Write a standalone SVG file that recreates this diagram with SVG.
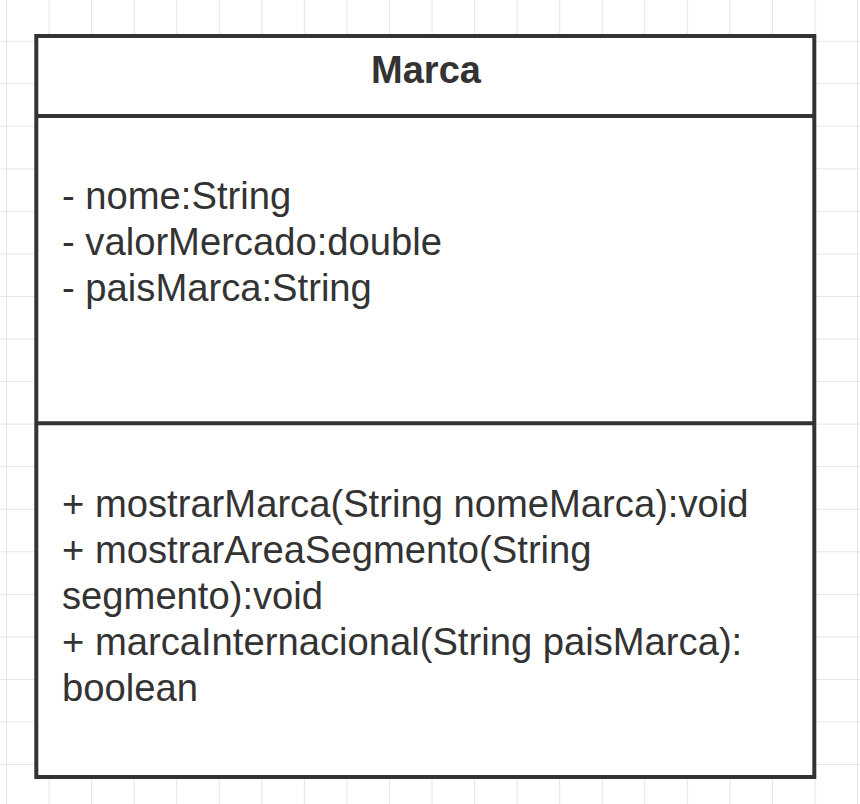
<svg xmlns="http://www.w3.org/2000/svg" width="860" height="804" viewBox="0 0 860 804">
<defs>
<pattern id="grid" x="6" y="-1.85" width="42.55" height="42.55" patternUnits="userSpaceOnUse">
<path d="M0.5 0 V42.55 M0 0.5 H42.55" fill="none" stroke="#e6e6e6" stroke-width="1.2"/>
</pattern>
</defs>
<style>
.box{fill:#ffffff;stroke:#333333;stroke-width:4}
.div{stroke:#333333;stroke-width:4;fill:none}
.t{font-family:"Liberation Sans",Arial,sans-serif;font-size:38.2px;fill:#333333}
.title{font-family:"Liberation Sans",Arial,sans-serif;font-size:38px;font-weight:bold;fill:#333333}
</style>
<rect width="860" height="804" fill="#ffffff"/>
<rect x="0" y="0" width="860" height="804" fill="url(#grid)"/>
<g id="Marca">
<rect class="box" x="36.3" y="36" width="778" height="741"/>
<line class="div" x1="36.3" y1="116" x2="814.3" y2="116"/>
<line class="div" x1="36.3" y1="423.3" x2="814.3" y2="423.3"/>
<text class="title" x="426" y="83" text-anchor="middle">Marca</text>
<text class="t" x="62" y="209">- nome:String</text>
<text class="t" x="62" y="255">- valorMercado:double</text>
<text class="t" x="62" y="301">- paisMarca:String</text>
<text class="t" x="62" y="517">+ mostrarMarca(String nomeMarca):void</text>
<text class="t" x="62" y="563">+ mostrarAreaSegmento(String</text>
<text class="t" x="62" y="609">segmento):void</text>
<text class="t" x="62" y="655">+ marcaInternacional(String paisMarca):</text>
<text class="t" x="62" y="701">boolean</text>
</g>
<g id="connectors"></g>
</svg>
